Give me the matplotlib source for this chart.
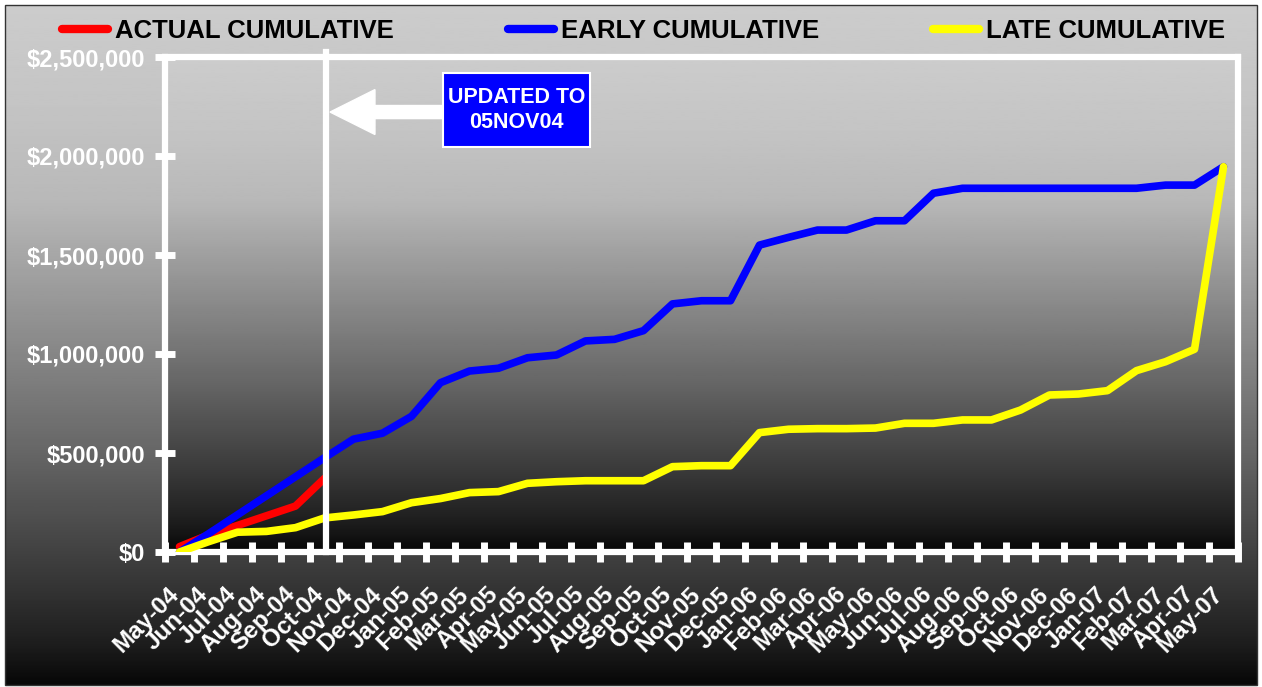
import matplotlib
matplotlib.use("Agg")
import matplotlib.pyplot as plt
import matplotlib.transforms as mtransforms
from matplotlib.lines import Line2D
from matplotlib.patches import Rectangle, FancyArrow
import numpy as np


MONTHS = ["May-04", "Jun-04", "Jul-04", "Aug-04", "Sep-04", "Oct-04",
          "Nov-04", "Dec-04", "Jan-05", "Feb-05", "Mar-05", "Apr-05",
          "May-05", "Jun-05", "Jul-05", "Aug-05", "Sep-05", "Oct-05",
          "Nov-05", "Dec-05", "Jan-06", "Feb-06", "Mar-06", "Apr-06",
          "May-06", "Jun-06", "Jul-06", "Aug-06", "Sep-06", "Oct-06",
          "Nov-06", "Dec-06", "Jan-07", "Feb-07", "Mar-07", "Apr-07",
          "May-07"]

ACTUAL = [27000, 86000, 134000, 183000, 232000, 372000]

EARLY = [0, 92000, 188000, 284000, 380000, 476000, 570000, 600000, 685000,
         855000, 914000, 928000, 981000, 995000, 1066000, 1074000, 1118000,
         1253000, 1269000, 1269000, 1550000, 1589000, 1626000, 1626000,
         1673000, 1673000, 1812000, 1837000, 1837000, 1837000, 1837000,
         1837000, 1837000, 1837000, 1853000, 1853000, 1946000]

LATE = [0, 52000, 100000, 104000, 123000, 172000, 187000, 204000, 249000,
        270000, 300000, 305000, 347000, 355000, 360000, 360000, 360000,
        431000, 436000, 436000, 603000, 620000, 623000, 623000, 626000,
        650000, 650000, 667000, 667000, 717000, 793000, 798000, 815000,
        916000, 961000, 1024000, 1946000]

SERIES = ["ACTUAL CUMULATIVE", "EARLY CUMULATIVE", "LATE CUMULATIVE"]
Y_TICKS = [0, 500000, 1000000, 1500000, 2000000, 2500000]
UPDATE_X = 5.05  # "updated to 05NOV04" marker, just past Oct-04

plt.rcParams["font.family"] = ["Liberation Sans", "DejaVu Sans"]
plt.rcParams["font.weight"] = "bold"

W, H = 1262, 687
fig = plt.figure(figsize=(W / 100, H / 100), dpi=100, facecolor="white")


def shade(n=256):
    # grey-to-black fill, light at the top
    t = np.linspace(0, 1, n)
    v = np.interp(t, [0, .15, .29, .65, .83, .94, 1],
                  [204, 196, 184, 104, 60, 30, 8]) / 255
    return v.reshape(-1, 1)


# chart area background
bg = fig.add_axes([0, 0, 1, 1], zorder=-1)
bg.set_axis_off()
bg.imshow(shade(), cmap="gray", vmin=0, vmax=1, aspect="auto",
          extent=[5 / W, 1257 / W, 2 / H, 682 / H])
bg.add_patch(Rectangle((5 / W, 2 / H), 1252 / W, 680 / H, fill=False,
                       edgecolor="#333333", lw=1))
bg.set_xlim(0, 1)
bg.set_ylim(0, 1)

# plot area
ax = fig.add_axes([165 / W, 1 - 552 / H, (1238 - 165) / W, (552 - 57) / H])
ax.set_facecolor("none")
ax.imshow(shade(), cmap="gray", vmin=0, vmax=1, aspect="auto",
          extent=[0, 1, 0, 1], transform=ax.transAxes, zorder=0)

x = np.arange(len(MONTHS))
ax.plot(x[:len(ACTUAL)], ACTUAL, color="red", lw=5.5,
        solid_capstyle="round", zorder=3)
ax.plot(x, EARLY, color="blue", lw=5.5, solid_capstyle="round", zorder=3)
ax.plot(x, LATE, color="yellow", lw=5.5, solid_capstyle="round", zorder=3)

ax.set_xlim(-0.5, len(MONTHS) - 0.5)
ax.set_ylim(0, 2500000)

# update marker, arrow and label box
ax.axvline(UPDATE_X, ymax=1.01, color="white", lw=4.5, zorder=4,
           clip_on=False)
ax.add_patch(FancyArrow(9.09, 2222000, -3.90, 0, width=66000,
                        head_width=227000, head_length=1.55,
                        length_includes_head=True, color="white", zorder=5))
ax.add_patch(Rectangle((9.09, 2045000), 5.07, 374000, facecolor="#0000ff",
                       edgecolor="white", lw=1.5, zorder=5))
ax.text(11.62, 2232000, "UPDATED TO\n05NOV04", color="white", fontsize=15.5,
        fontweight="bold", ha="center", va="center", linespacing=1.3,
        zorder=6)

for s in ax.spines.values():
    s.set_color("white")
    s.set_linewidth(4.5)

ax.set_xticks(x)
ax.set_xticklabels(MONTHS, rotation=45, ha="right", va="top",
                   rotation_mode="anchor")
ax.set_xticks(np.arange(-0.5, len(MONTHS)), minor=True)
ax.tick_params(axis="x", which="major", length=0, pad=22,
               labelcolor="white", labelsize=17.5)
ax.tick_params(axis="x", which="minor", direction="inout", length=15,
               width=5, color="white")
ax.set_yticks(Y_TICKS)
ax.set_yticklabels([f"${v:,.0f}" for v in Y_TICKS])
ax.tick_params(axis="y", direction="inout", length=15, width=5,
               color="white", labelcolor="white", labelsize=17, pad=7)

offset = mtransforms.ScaledTranslation(-9 / 72, 0, fig.dpi_scale_trans)
for lab in ax.get_xticklabels():
    lab.set_transform(lab.get_transform() + offset)

handles = [Line2D([], [], color=c, lw=6, solid_capstyle="round")
           for c in ("red", "blue", "yellow")]
fig.legend(handles, SERIES, loc="center",
           bbox_to_anchor=(62 / W, 1 - 31 / H, 1163 / W, 0), mode="expand",
           ncol=3, frameon=False, fontsize=18.5, handlelength=1.8,
           handletextpad=0.25, borderpad=0, borderaxespad=0,
           columnspacing=1)

fig.savefig("out.png", dpi=100, facecolor=fig.get_facecolor())
